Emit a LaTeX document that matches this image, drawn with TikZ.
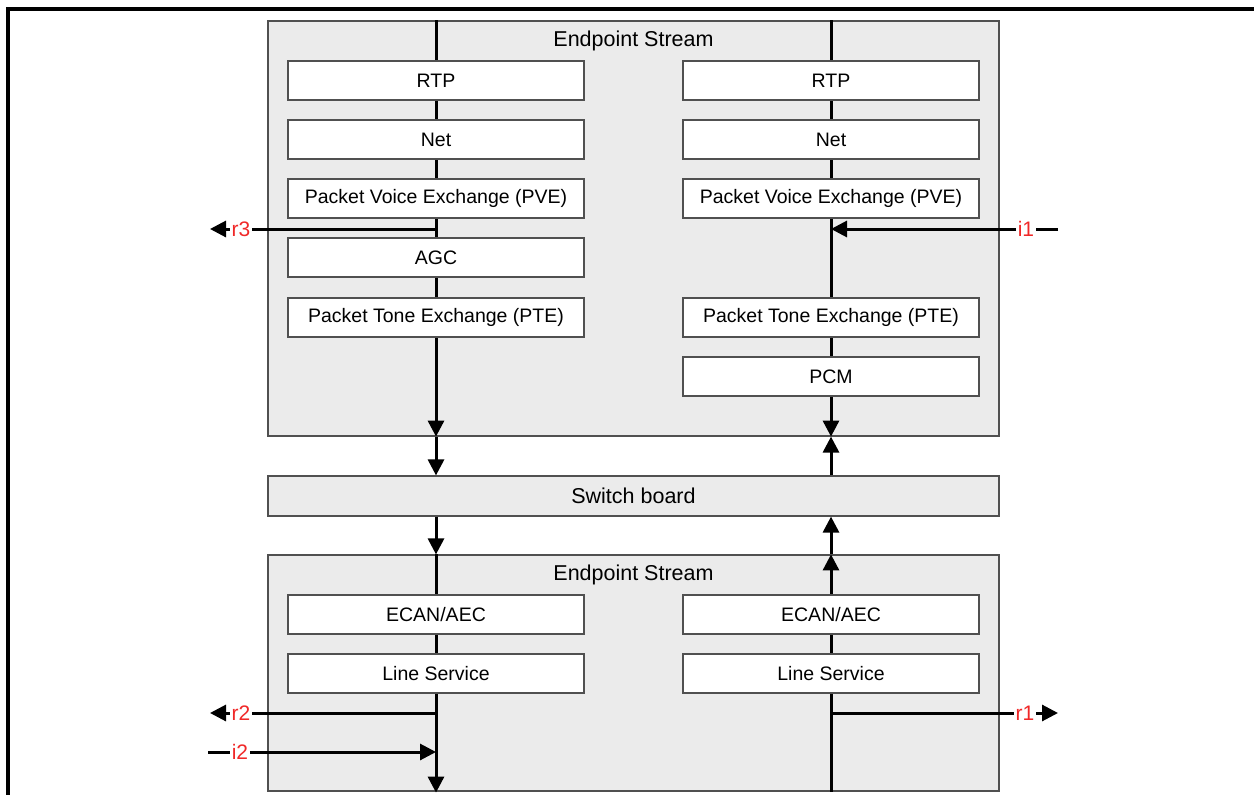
\documentclass[tikz,border=0pt]{standalone}
\usepackage{fontspec}
\setmainfont{Liberation Sans}
\usetikzlibrary{arrows.meta}
\definecolor{streamgray}{HTML}{EBEBEB}
\definecolor{edgegray}{HTML}{505050}
\definecolor{lblred}{HTML}{F02828}
\begin{document}
\begin{tikzpicture}[x=1pt,y=-1pt,
  stream/.style={draw=edgegray,fill=streamgray,line width=1.2pt,minimum width=731pt,inner sep=0pt},
  layerbox/.style={draw=edgegray,fill=white,line width=1.2pt,minimum width=296pt,minimum height=39pt,inner sep=0pt,font=\fontsize{19.5}{22}\selectfont},
  titletext/.style={inner sep=0pt,font=\fontsize{21.5}{24}\selectfont},
  sig/.style={line width=3pt},
  sigarrow/.style={line width=3pt,-{Triangle[length=16pt,width=16pt]}},
  sigred/.style={text=lblred,inner sep=1.5pt,font=\fontsize{21}{23}\selectfont}
]
\useasboundingbox (0,0) rectangle (1254,795);
% outer frame (partly visible)
\draw[line width=3.5pt] (8,800) -- (8,9) -- (1260,9);

% stream boxes
\node[stream,minimum height=415pt] (up) at (633.5,228.5) {};
\node[stream,minimum height=40pt,font=\fontsize{21.5}{24}\selectfont] (sw) at (633.5,496) {Switch board};
\node[stream,minimum height=236pt] (lo) at (633.5,673) {};
\node[titletext] (uptitle) at (633.5,41) {Endpoint Stream};
\node[titletext] (lotitle) at (633.5,575) {Endpoint Stream};

\coordinate (colL) at (436,0);
\coordinate (colR) at (831,0);

% vertical signal paths, left
\draw[sigarrow] (colL |- up.north) -- (colL |- up.south);
\draw[sigarrow] (colL |- up.south) -- (colL |- sw.north);
\draw[sigarrow] (colL |- sw.south) -- (colL |- lo.north);
\draw[sigarrow] (colL |- lo.north) -- ([yshift=-1pt]colL |- lo.south);
% vertical signal paths, right
\draw[sigarrow] (colR |- up.north) -- (colR |- up.south);
\draw[sigarrow] (colR |- sw.north) -- (colR |- up.south);
\draw[sigarrow] (colR |- lo.north) -- (colR |- sw.south);
\draw[sigarrow] (colR |- lo.south) -- (colR |- lo.north);

% left column boxes (upper)
\node[layerbox] (rtpL) at (436,80.5) {RTP};
\node[layerbox] (netL) at (436,139.5) {Net};
\node[layerbox] (pveL) at (436,198.5) {Packet Voice Exchange (PVE)};
\node[layerbox] (agcL) at (436,257.5) {AGC};
\node[layerbox] (pteL) at (436,317.5) {Packet Tone Exchange (PTE)};
% right column boxes (upper)
\node[layerbox] (rtpR) at (831,80.5) {RTP};
\node[layerbox] (netR) at (831,139.5) {Net};
\node[layerbox] (pveR) at (831,198.5) {Packet Voice Exchange (PVE)};
\node[layerbox] (pteR) at (831,317.5) {Packet Tone Exchange (PTE)};
\node[layerbox] (pcmR) at (831,376.5) {PCM};
% lower boxes
\node[layerbox] (ecanL) at (436,614.5) {ECAN/AEC};
\node[layerbox] (lsL) at (436,673.5) {Line Service};
\node[layerbox] (ecanR) at (831,614.5) {ECAN/AEC};
\node[layerbox] (lsR) at (831,673.5) {Line Service};

% side signals
\node[sigred] (r3) at (241,229) {r3};
\coordinate (r3tip) at (210,229);
\draw[sig] (colL |- r3) -- (r3.east);
\draw[sigarrow] (r3.west) -- (r3tip);

\node[sigred] (i1) at (1026,229) {i1};
\coordinate (i1start) at (1058,229);
\draw[sig] (i1start) -- (i1.east);
\draw[sigarrow] (i1.west) -- (colR |- i1);

\node[sigred] (r2) at (241,713) {r2};
\coordinate (r2tip) at (210,713);
\draw[sig] (colL |- r2) -- (r2.east);
\draw[sigarrow] (r2.west) -- (r2tip);

\node[sigred] (i2) at (240,752) {i2};
\coordinate (i2start) at (208,752);
\draw[sig] (i2start) -- (i2.west);
\draw[sigarrow] (i2.east) -- (colL |- i2);

\node[sigred] (r1) at (1025,713) {r1};
\coordinate (r1tip) at (1058,713);
\draw[sig] (colR |- r1) -- (r1.west);
\draw[sigarrow] (r1.east) -- (r1tip);
\end{tikzpicture}
\end{document}
